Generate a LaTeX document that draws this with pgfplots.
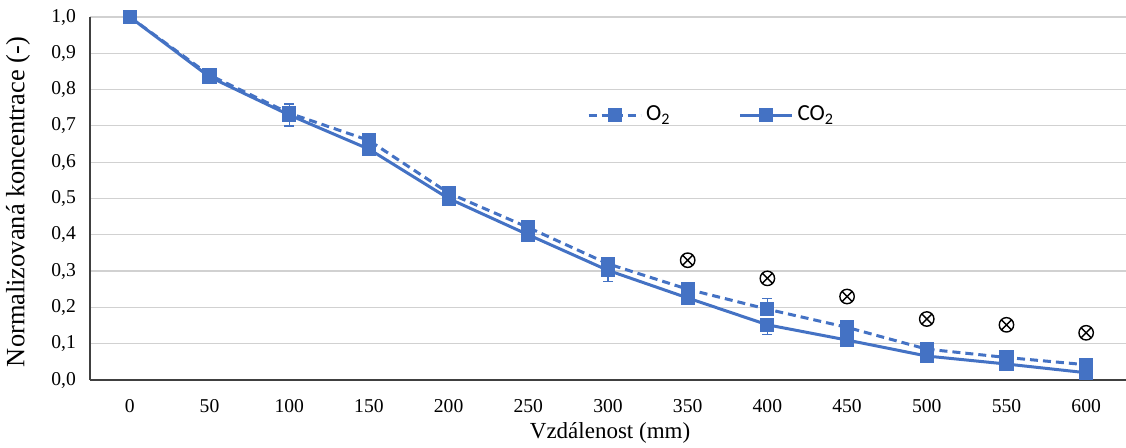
\documentclass[border=0pt]{standalone}
\usepackage{fontspec}
\setmainfont{Liberation Serif}
\newfontfamily\legfont{Carlito}
\usepackage{pgfplots}
\pgfplotsset{compat=1.18}
\usetikzlibrary{plotmarks}
\definecolor{exblue}{RGB}{68,114,196}
\begin{document}
\begin{tikzpicture}
\useasboundingbox (-45pt,-34pt) rectangle (518pt,190pt);
\begin{axis}[
  at={(0pt,0pt)}, anchor=south west,
  scale only axis, width=518pt, height=181.5pt,
  xmin=-25, xmax=625, ymin=0, ymax=1,
  xtick={0,50,...,600}, ytick={0,0.1,...,1.0},
  axis x line*=bottom, axis y line*=left,
  axis line style={black!75, line width=0.8pt},
  x axis line style={-}, y axis line style={-},
  ymajorgrids, grid style={black!18, line width=0.6pt},
  major tick length=0pt,
  tick label style={font=\fontsize{9.8}{11}\selectfont},
  /pgf/number format/assume math mode=true,
  yticklabel style={xshift=-3.5pt, /pgf/number format/.cd, use comma, fixed, fixed zerofill, precision=1},
  xticklabel style={yshift=-6pt, /pgf/number format/.cd, fixed, 1000 sep={}},
  xlabel={Vzdálenost (mm)}, ylabel={Normalizovaná koncentrace (-)},
  xlabel style={font=\fontsize{11.5}{13}\selectfont, at={(axis description cs:0.502,0)}, anchor=center, yshift=-26.5pt},
  ylabel style={font=\fontsize{13.2}{15}\selectfont, at={(axis description cs:-0.0695,0.49)}, anchor=center},
  clip=false,
  legend style={at={(0.601,0.73)}, anchor=center, draw=none, fill=none,
    legend columns=2, font=\legfont\fontsize{11.5}{13}\selectfont,
    /tikz/every even column/.append style={column sep=32pt}},
  legend image code/.code={\draw[#1] (0pt,0pt) -- (26pt,0pt); \draw[#1, solid, mark repeat=1] plot coordinates {(13pt,0pt)};},
]
\addplot[exblue, line width=1.5pt, dash pattern=on 4pt off 2.5pt, mark=square*, mark size=2.8pt, mark options={solid},
  error bars/.cd, y dir=both, y explicit, error bar style={solid, line width=0.7pt}, error mark options={rotate=90, mark size=2.5pt, line width=0.7pt}]
coordinates {
(0,1.0) (50,0.84) (100,0.735) (150,0.66) (200,0.515) (250,0.42) (300,0.32)
(350,0.25) (400,0.195) +=(0,0.03) -=(0,0) (450,0.145) (500,0.085) (550,0.062) (600,0.042)
};
\addlegendentry{O\textsubscript{2}}
\addplot[exblue, line width=1.5pt, mark=square*, mark size=2.8pt,
  error bars/.cd, y dir=both, y explicit, error bar style={line width=0.7pt}, error mark options={rotate=90, mark size=2.5pt, line width=0.7pt}]
coordinates {
(0,1.0) (50,0.835) (100,0.73) +=(0,0.03) -=(0,0.03) (150,0.636) (200,0.50) (250,0.40)
(300,0.302) +=(0,0) -=(0,0.03) (350,0.226) (400,0.152) +=(0,0) -=(0,0.027) (450,0.11) (500,0.066) (550,0.044) (600,0.02)
};
\addlegendentry{CO\textsubscript{2}}
\addplot[only marks, mark=otimes, mark size=3.6pt, black, line width=0.7pt, forget plot]
coordinates {(350,0.33) (400,0.28) (450,0.23) (500,0.168) (550,0.152) (600,0.13)};
\end{axis}
\end{tikzpicture}
\end{document}
